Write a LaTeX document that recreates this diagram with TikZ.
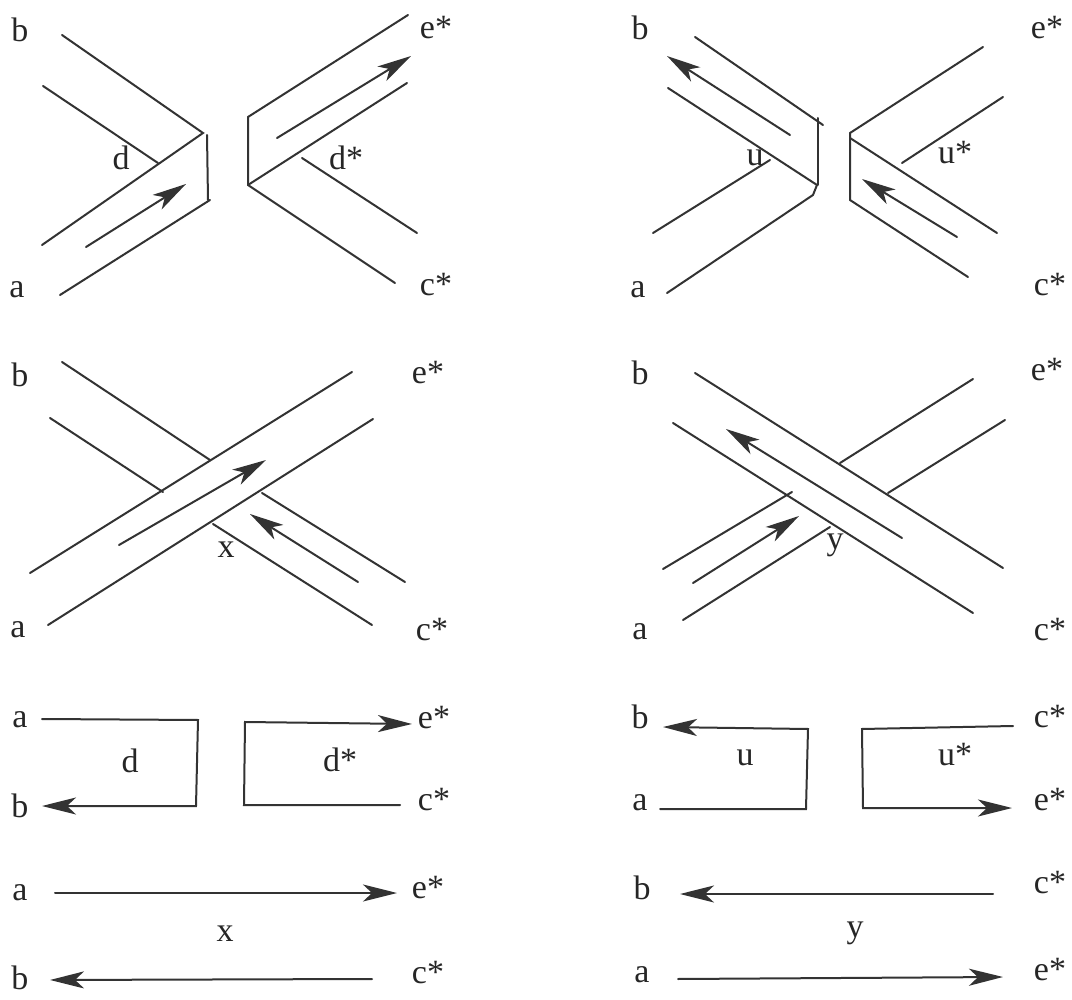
\documentclass[tikz,border=0pt]{standalone}
\usepackage{fontspec}
\setmainfont{Liberation Serif}
\usetikzlibrary{arrows.meta}
\begin{document}
\begin{tikzpicture}[x=1pt,y=-1pt,
  ln/.style={line width=2pt,draw=black!80,line cap=round,line join=miter},
  ar/.style={ln,-{Stealth[length=34pt,width=17pt,inset=9pt]}},
  lb/.style={font=\fontsize{34}{38}\selectfont,text=black!85,inner sep=0pt}]
\useasboundingbox (0,0) rectangle (1072,1000);
% ---------- top left
\draw[ln] (62,35) -- (203,133) -- (42,245);
\draw[ln] (43,86) -- (158,163);
\draw[ln] (60,295) -- (210,200);
\draw[ln] (207,135) -- (208,200);
\draw[ar] (86,247) -- (186,184);
\draw[ln] (408,15) -- (248,117) -- (248,185) -- (395,283);
\draw[ln] (248,185) -- (407,83);
\draw[ln] (302,158) -- (417,233);
\draw[ar] (277,138) -- (411,56);
\node[lb] (b1) at (20,30) {b};
\node[lb] (a1) at (17,290) {a};
\node[lb] (e1) at (436,28) {e*};
\node[lb] (c1) at (436,285) {c*};
\node[lb] (d1) at (121,158) {d};
\node[lb] (ds1) at (346,158) {d*};
% ---------- top right
\draw[ln] (695,37) -- (823,125);
\draw[ln] (818,118) -- (818,185);
\draw[ln] (668,88) -- (817,185) -- (813,195) -- (667,293);
\draw[ln] (653,233) -- (770,160);
\draw[ar] (790,135) -- (667,56);
\draw[ln] (983,47) -- (850,133) -- (850,200) -- (968,277);
\draw[ln] (850,138) -- (997,233);
\draw[ln] (902,163) -- (1003,97);
\draw[ar] (957,237) -- (862,179);
\node[lb] (b2) at (640,28) {b};
\node[lb] (a2) at (638,290) {a};
\node[lb] (e2) at (1047,28) {e*};
\node[lb] (c2) at (1050,285) {c*};
\node[lb] (u2) at (755,158) {u};
\node[lb] (us2) at (955,153) {u*};
% ---------- middle left
\draw[ln] (30,573) -- (352,372);
\draw[ln] (48,625) -- (373,419);
\draw[ar] (119,545) -- (266,460);
\draw[ln] (62,362) -- (210,460);
\draw[ln] (262,493) -- (405,582);
\draw[ln] (50,418) -- (163,492);
\draw[ln] (213,524) -- (372,625);
\draw[ar] (358,582) -- (250,514);
\node[lb] (b3) at (20,375) {b};
\node[lb] (a3) at (18,630) {a};
\node[lb] (e3) at (428,373) {e*};
\node[lb] (c3) at (432,630) {c*};
\node[lb] (x3) at (226,550) {x};
% ---------- middle right
\draw[ln] (695,373) -- (1003,568);
\draw[ln] (673,423) -- (973,613);
\draw[ar] (902,538) -- (726,429);
\draw[ln] (663,569) -- (792,492);
\draw[ln] (840,463) -- (973,379);
\draw[ln] (683,620) -- (830,527);
\draw[ln] (888,493) -- (1005,420);
\draw[ar] (693,583) -- (799,516);
\node[lb] (b4) at (640,373) {b};
\node[lb] (a4) at (640,632) {a};
\node[lb] (e4) at (1047,370) {e*};
\node[lb] (c4) at (1050,630) {c*};
\node[lb] (y4) at (835,545) {y};
% ---------- bottom left
\draw[ar] (42,719) -- (198,720) -- (196,806) -- (42,806);
\draw[ar] (400,805) -- (244,805) -- (245,722) -- (412,724);
\node[lb] (a5) at (20,720) {a};
\node[lb] (b5) at (20,806) {b};
\node[lb] (e5) at (434,718) {e*};
\node[lb] (c5) at (434,800) {c*};
\node[lb] (d5) at (130,761) {d};
\node[lb] (ds5) at (340,760) {d*};
\draw[ar] (55,893) -- (397,893);
\draw[ar] (372,979) -- (50,980);
\node[lb] (a6) at (20,893) {a};
\node[lb] (b6) at (20,978) {b};
\node[lb] (e6) at (428,888) {e*};
\node[lb] (c6) at (428,973) {c*};
\node[lb] (x6) at (225,934) {x};
% ---------- bottom right
\draw[ar] (660,809) -- (806,809) -- (808,729) -- (663,727);
\draw[ar] (1013,726) -- (862,729) -- (863,808) -- (1012,808);
\node[lb] (b7) at (640,717) {b};
\node[lb] (a7) at (640,803) {a};
\node[lb] (c7) at (1050,717) {c*};
\node[lb] (e7) at (1050,800) {e*};
\node[lb] (u7) at (745,758) {u};
\node[lb] (us7) at (955,755) {u*};
\draw[ar] (993,894) -- (680,894);
\draw[ar] (678,979) -- (1003,977);
\node[lb] (b8) at (642,888) {b};
\node[lb] (a8) at (642,975) {a};
\node[lb] (c8) at (1050,883) {c*};
\node[lb] (e8) at (1050,970) {e*};
\node[lb] (y8) at (855,933) {y};
\end{tikzpicture}
\end{document}
